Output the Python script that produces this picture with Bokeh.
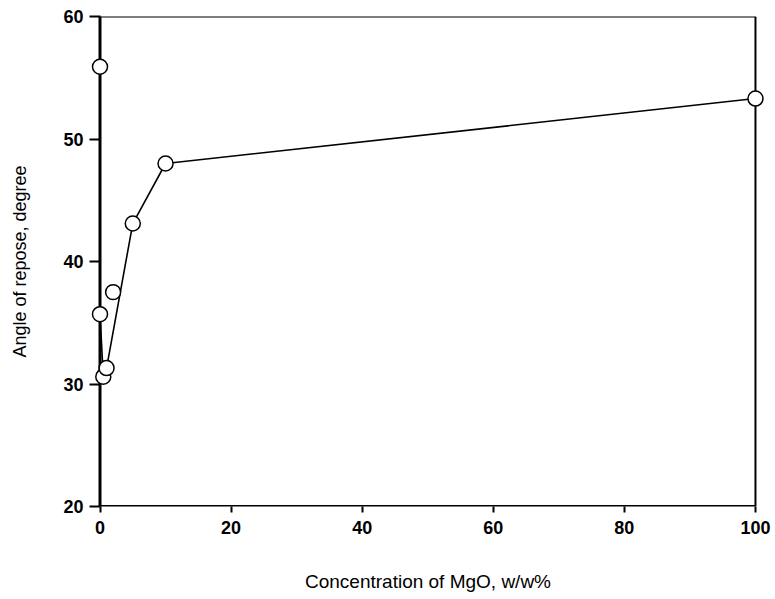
from bokeh.plotting import figure
from bokeh.models import ColumnDataSource, FixedTicker, Range1d
from bokeh.embed import file_html
from bokeh.resources import INLINE

# Measured points: concentration of MgO (w/w%) and angle of repose (degree)
conc = [0, 0, 0.5, 1, 2, 5, 10, 100]
angle = [55.9, 35.7, 30.6, 31.3, 37.5, 43.1, 48.0, 53.3]

# Points joined by the drawn curve
curve_conc = [0, 0, 0.5, 1, 5, 10, 100]
curve_angle = [55.9, 35.7, 30.6, 31.3, 43.1, 48.0, 53.3]

x_ticks = [0, 20, 40, 60, 80, 100]
y_ticks = [20, 30, 40, 50, 60]

x_label = "Concentration of MgO, w/w%"
y_label = "Angle of repose, degree"

x0, x1 = x_ticks[0], x_ticks[-1]
y0, y1 = y_ticks[0], y_ticks[-1]

# small padding so the markers at x=0 and x=100 are not clipped by the frame
p = figure(width=775, height=599, output_backend="svg", toolbar_location=None,
           x_range=Range1d(x0 - 1.45, x1 + 1.53), y_range=Range1d(y0, y1),
           min_border_left=90, min_border_right=10, min_border_top=16, min_border_bottom=93)

p.xgrid.visible = False
p.ygrid.visible = False
p.outline_line_color = None
p.background_fill_color = "white"
p.border_fill_color = "white"

# box: thick left/bottom axes, thinner top/right borders
p.line([x0, x0], [y0, y1], line_color="black", line_width=3)
p.line([x0, x1], [y0, y0], line_color="black", line_width=3)
p.line([x0, x1], [y1, y1], line_color="black", line_width=2)
p.line([x1, x1], [y0, y1], line_color="black", line_width=2)

p.line(curve_conc, curve_angle, line_color="black", line_width=1.6)
src = ColumnDataSource(dict(x=conc, y=angle))
p.scatter("x", "y", source=src, size=15, marker="circle", fill_color="white",
          line_color="black", line_width=1.5)

for ax in (p.xaxis[0], p.yaxis[0]):
    ax.axis_line_color = None
    ax.major_tick_line_width = 2
    ax.major_tick_line_color = "black"
    ax.minor_tick_line_color = None
    ax.major_label_text_font = "Liberation Sans"
    ax.major_label_text_font_style = "bold"
    ax.major_label_text_font_size = "18px"
    ax.major_label_text_color = "black"
    ax.axis_label_text_font = "Liberation Sans"
    ax.axis_label_text_font_style = "normal"
    ax.axis_label_text_color = "black"

p.xaxis.axis_label_text_font_size = "19px"
p.yaxis.axis_label_text_font_size = "18px"
p.xaxis.ticker = FixedTicker(ticks=x_ticks)
p.yaxis.ticker = FixedTicker(ticks=y_ticks)
p.xaxis.major_tick_out = 6
p.xaxis.major_tick_in = 0
p.yaxis.major_tick_out = 1
p.yaxis.major_tick_in = 10
p.xaxis.major_label_standoff = 8
p.yaxis.major_label_standoff = 6
p.xaxis.axis_label = x_label
p.yaxis.axis_label = y_label
p.xaxis.axis_label_standoff = 34
p.yaxis.axis_label_standoff = 30

open("out.html", "w").write(file_html(p, INLINE))
